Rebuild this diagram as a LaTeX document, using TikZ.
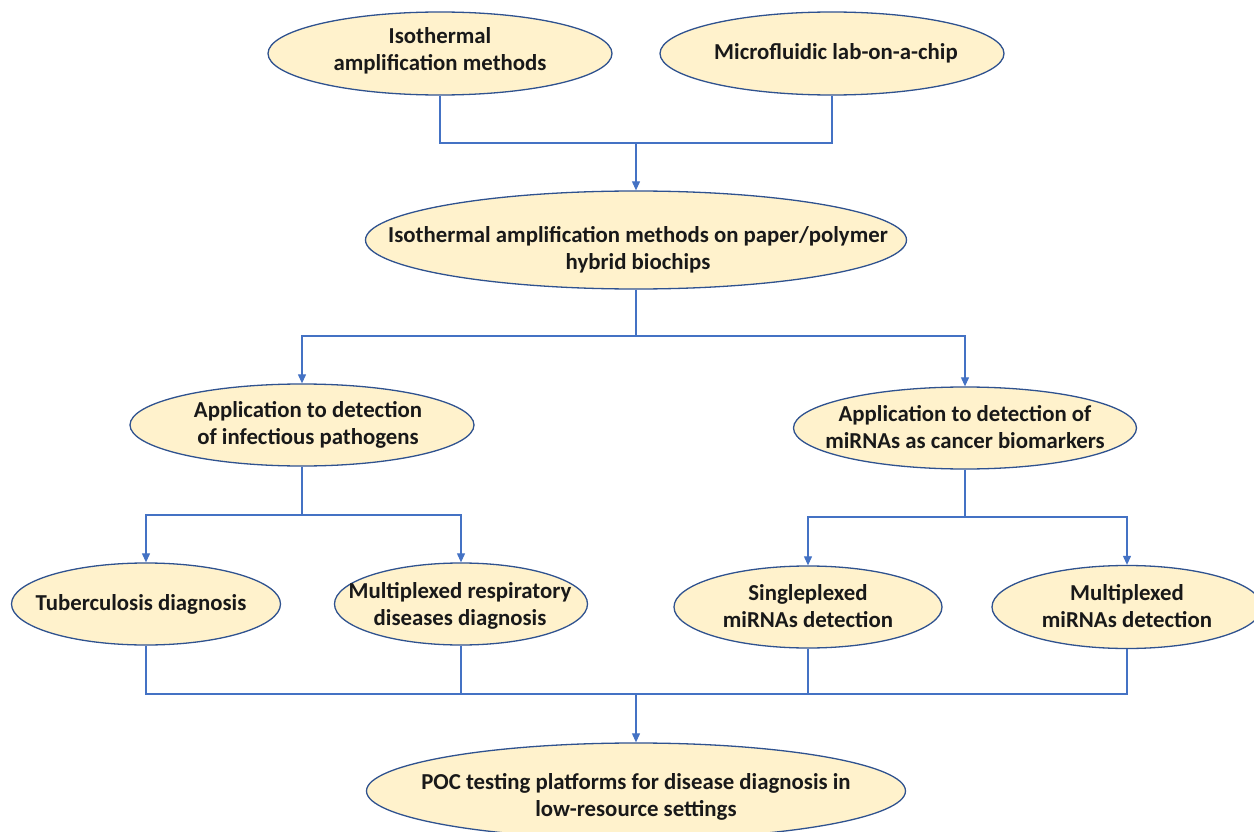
\documentclass[tikz,border=0pt]{standalone}
\usepackage{fontspec}
\setmainfont{Carlito}
\usetikzlibrary{shapes.geometric,arrows.meta}
\definecolor{fillc}{HTML}{FFF2CC}
\definecolor{edgec}{HTML}{2F528F}
\definecolor{linec}{HTML}{4472C4}
\tikzset{
  oval/.style={ellipse, draw=edgec, fill=fillc, line width=1.3pt, inner sep=0pt},
  lbl/.style={align=center, inner sep=0pt, font=\fontsize{22.8}{27}\selectfont\bfseries, text=black!90},
  conn/.style={draw=linec, line width=1.1pt},
  arr/.style={conn, -{Triangle[width=8pt,length=9pt]}},
}
\begin{document}
\begin{tikzpicture}[x=1pt,y=-1pt]
\useasboundingbox (0,0) rectangle (1254,832);
\clip (0,0) rectangle (1254,832);
% ovals
\node[oval, minimum width=344pt, minimum height=83pt] (e1) at (440,53.5) {};
\node[oval, minimum width=344pt, minimum height=83pt] (e2) at (832,53.5) {};
\node[oval, minimum width=541pt, minimum height=98pt] (e3) at (636,240) {};
\node[oval, minimum width=344pt, minimum height=82pt] (e4) at (302,425) {};
\node[oval, minimum width=343pt, minimum height=82pt] (e5) at (965,428) {};
\node[oval, minimum width=269pt, minimum height=82pt] (e6) at (146,604) {};
\node[oval, minimum width=253pt, minimum height=82pt] (e7) at (461,604) {};
\node[oval, minimum width=268pt, minimum height=82pt] (e8) at (808,607) {};
\node[oval, minimum width=270pt, minimum height=83pt] (e9) at (1127,607) {};
\node[oval, minimum width=539pt, minimum height=96pt] (e10) at (636,791) {};
% labels
\node[lbl] (t1) at (440,50.5) {Isothermal\\amplification methods};
\node[lbl] (t2) at (836,53) {Microfluidic lab-on-a-chip};
\node[lbl] (t3) at (638,250) {Isothermal amplification methods on paper/polymer\\hybrid biochips};
\node[lbl] (t4) at (308,424.5) {Application to detection\\of infectious pathogens};
\node[lbl] (t5) at (965,427.5) {Application to detection of\\miRNAs as cancer biomarkers};
\node[lbl] (t6) at (141,604) {Tuberculosis diagnosis};
\node[lbl] (t7) at (460,605.5) {Multiplexed respiratory\\diseases diagnosis};
\node[lbl] (t8) at (808,606.5) {Singleplexed\\miRNAs detection};
\node[lbl] (t9) at (1127,606.5) {Multiplexed\\miRNAs detection};
\node[lbl] (t10) at (636,796.5) {POC testing platforms for disease diagnosis in\\low-resource settings};
% junctions
\coordinate (j1) at (636,143);
\coordinate (j2) at (636,336);
\coordinate (j3) at (302,515);
\coordinate (j4) at (965,517);
\coordinate (j5) at (636,694);
% connectors
\draw[conn] (e1.south) |- (j1) -| (e2.south);
\draw[arr] (j1) -- (e3.north);
\draw[conn] (e3.south) -- (j2);
\draw[arr] (j2) -| (e4.north);
\draw[arr] (j2) -| (e5.north);
\draw[conn] (e4.south) -- (j3);
\draw[arr] (j3) -| (e6.north);
\draw[arr] (j3) -| (e7.north);
\draw[conn] (e5.south) -- (j4);
\draw[arr] (j4) -| (e8.north);
\draw[arr] (j4) -| (e9.north);
\draw[conn] (e6.south) |- (j5) -| (e9.south);
\draw[conn] (e7.south) -- (e7.south |- j5);
\draw[conn] (e8.south) -- (e8.south |- j5);
\draw[arr] (j5) -- (e10.north);
\end{tikzpicture}
\end{document}
